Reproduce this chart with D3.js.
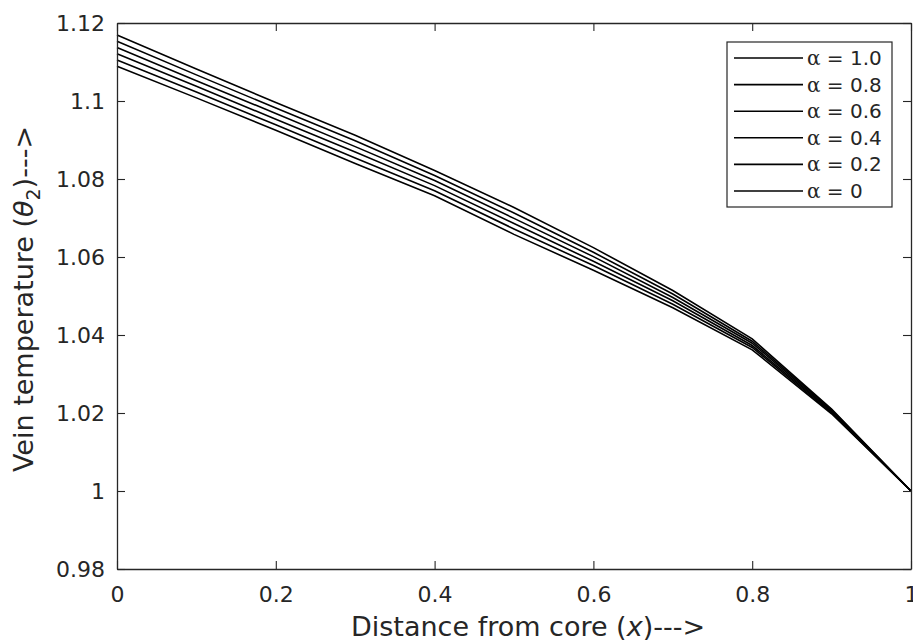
<!DOCTYPE html>
<html>
<head>
<meta charset="utf-8">
<script src="https://cdn.jsdelivr.net/npm/d3@7"></script>
<style>
  body { margin: 0; background: #fff; }
  text { font-family: "DejaVu Sans", sans-serif; fill: #262626; }
</style>
</head>
<body>
<div id="chart-container"></div>
<script>
// node positions along the vein (x)
const xNodes = [0, 0.1, 0.2, 0.3, 0.4, 0.5, 0.6, 0.7, 0.8, 0.9, 1.0];

// legend labels, top curve first
const alphaLabels = ["1.0", "0.8", "0.6", "0.4", "0.2", "0"];

// theta_2, one array per alpha
const theta_a10 = [1.1169, 1.1082, 1.0996, 1.0912, 1.0822, 1.0727, 1.0624, 1.0514, 1.0390, 1.0210, 1.0];
const theta_a08 = [1.1153, 1.1067, 1.0982, 1.0898, 1.0809, 1.0713, 1.0612, 1.0505, 1.0384, 1.0208, 1.0];
const theta_a06 = [1.1137, 1.1052, 1.0968, 1.0883, 1.0796, 1.0699, 1.0601, 1.0496, 1.0379, 1.0205, 1.0];
const theta_a04 = [1.1121, 1.1038, 1.0953, 1.0869, 1.0783, 1.0686, 1.0589, 1.0488, 1.0373, 1.0203, 1.0];
const theta_a02 = [1.1105, 1.1023, 1.0939, 1.0854, 1.0770, 1.0672, 1.0578, 1.0479, 1.0368, 1.0200, 1.0];
const theta_a00 = [1.1089, 1.1008, 1.0925, 1.0840, 1.0757, 1.0658, 1.0566, 1.0470, 1.0362, 1.0198, 1.0];

const xTicks = [0, 0.2, 0.4, 0.6, 0.8, 1];
const xTickLabels = ["0", "0.2", "0.4", "0.6", "0.8", "1"];
const yTicks = [0.98, 1.0, 1.02, 1.04, 1.06, 1.08, 1.1, 1.12];
const yTickLabels = ["0.98", "1", "1.02", "1.04", "1.06", "1.08", "1.1", "1.12"];

const series = [theta_a10, theta_a08, theta_a06, theta_a04, theta_a02, theta_a00];

const W = 913, H = 642;
const margin = {top: 23, right: 2, bottom: 73, left: 117},
    width = W - margin.left - margin.right,
    height = H - margin.top - margin.bottom;
const axisColor = "#262626";

const svg = d3.select("#chart-container")
    .append("svg")
    .attr("width", W)
    .attr("height", H)
  .append("g")
    .attr("transform", `translate(${margin.left},${margin.top})`);

const x = d3.scaleLinear().domain([0, 1]).range([0, width]);
const y = d3.scaleLinear().domain([0.98, 1.12]).range([height, 0]);

// curves
const line = d3.line()
    .x((d, i) => x(xNodes[i]))
    .y(d => y(d));

svg.selectAll(".curve")
    .data(series)
    .join("path")
    .attr("class", "curve")
    .attr("fill", "none")
    .attr("stroke", "#000")
    .attr("stroke-width", 1.6)
    .attr("d", line);

// axes, ticks pointing inward like matlab
function styleAxis(g) {
    g.selectAll("path").attr("stroke", axisColor).attr("stroke-width", 1.3);
    g.selectAll("line").attr("stroke", axisColor).attr("stroke-width", 1.1);
    g.selectAll("text").attr("fill", axisColor)
        .style("font-size", "22px").style("font-family", "'DejaVu Sans', sans-serif");
}

svg.append("g")
    .attr("transform", `translate(0,${height})`)
    .call(d3.axisBottom(x).tickValues(xTicks)
        .tickFormat((d, i) => xTickLabels[i])
        .tickSizeInner(-8).tickSizeOuter(0).tickPadding(17))
    .call(styleAxis);

svg.append("g")
    .call(d3.axisTop(x).tickValues(xTicks).tickFormat("")
        .tickSizeInner(-8).tickSizeOuter(0))
    .call(styleAxis);

svg.append("g")
    .call(d3.axisLeft(y).tickValues(yTicks)
        .tickFormat((d, i) => yTickLabels[i])
        .tickSizeInner(-8).tickSizeOuter(0).tickPadding(12))
    .call(styleAxis);

svg.append("g")
    .attr("transform", `translate(${width},0)`)
    .call(d3.axisRight(y).tickValues(yTicks).tickFormat("")
        .tickSizeInner(-8).tickSizeOuter(0))
    .call(styleAxis);

// axis titles
const xLabel = svg.append("text")
    .attr("x", width / 2 + 14)
    .attr("y", height + 67)
    .attr("text-anchor", "middle")
    .style("font-size", "27px");
xLabel.append("tspan").text("Distance from core (");
xLabel.append("tspan").attr("font-style", "italic").text("x");
xLabel.append("tspan").text(")--->");

const yLabel = svg.append("text")
    .attr("transform", `translate(${-84},${height / 2 + 3}) rotate(-90)`)
    .attr("text-anchor", "middle")
    .style("font-size", "27px");
yLabel.append("tspan").text("Vein temperature (");
yLabel.append("tspan").attr("font-style", "italic").text("θ");
yLabel.append("tspan").attr("dy", 7).style("font-size", "19px").text("2");
yLabel.append("tspan").attr("dy", -7).text(")--->");

// legend
const legX = 727 - margin.left, legY = 42 - margin.top;
const legW = 165, legH = 165, rowH = 26.6;
const legend = svg.append("g").attr("transform", `translate(${legX},${legY})`);
legend.append("rect")
    .attr("width", legW).attr("height", legH)
    .attr("fill", "#fff").attr("stroke", axisColor).attr("stroke-width", 1.2);

const rows = legend.selectAll(".leg-row")
    .data(alphaLabels)
    .join("g")
    .attr("class", "leg-row")
    .attr("transform", (d, i) => `translate(0,${16 + i * rowH})`);
rows.append("line")
    .attr("x1", 7).attr("x2", 76)
    .attr("stroke", "#000").attr("stroke-width", 1.6);
const lt = rows.append("text")
    .attr("x", 80).attr("dy", "0.35em")
    .style("font-size", "20px");
lt.append("tspan").style("font-family", "'DejaVu Serif', serif").text("α");
lt.append("tspan").text(d => " = " + d);
</script>
</body>
</html>
